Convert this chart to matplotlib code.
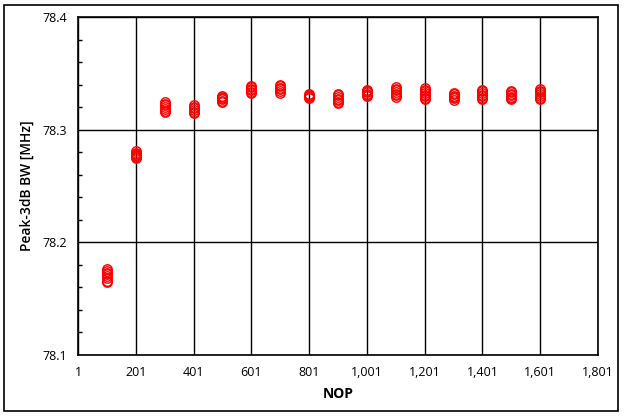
import matplotlib
matplotlib.use("Agg")
import matplotlib.pyplot as plt
from matplotlib.patches import Rectangle
from matplotlib.ticker import FuncFormatter, MultipleLocator

# repeated measurements per NOP setting
nop = [101, 201, 301, 401, 501, 601, 701, 801, 901, 1001, 1101, 1201, 1301, 1401, 1501, 1601]
bw_runs = [
    [78.1763, 78.1745, 78.1730, 78.1715, 78.1700, 78.1680, 78.1660, 78.1645],
    [78.2810, 78.2795, 78.2785, 78.2775, 78.2765, 78.2755, 78.2745],
    [78.3245, 78.3230, 78.3215, 78.3200, 78.3185, 78.3170, 78.3158],
    [78.3220, 78.3205, 78.3190, 78.3175, 78.3160, 78.3150],
    [78.3300, 78.3290, 78.3280, 78.3270, 78.3258, 78.3247],
    [78.3388, 78.3375, 78.3362, 78.3350, 78.3338, 78.3326],
    [78.3397, 78.3385, 78.3372, 78.3360, 78.3345, 78.3326],
    [78.3315, 78.3305, 78.3295, 78.3288, 78.3280],
    [78.3317, 78.3305, 78.3290, 78.3275, 78.3260, 78.3248, 78.3237],
    [78.3350, 78.3340, 78.3330, 78.3320, 78.3310, 78.3300],
    [78.3380, 78.3365, 78.3350, 78.3335, 78.3320, 78.3305, 78.3290],
    [78.3370, 78.3355, 78.3340, 78.3325, 78.3310, 78.3295, 78.3280, 78.3270],
    [78.3325, 78.3315, 78.3303, 78.3290, 78.3277, 78.3263],
    [78.3352, 78.3340, 78.3325, 78.3310, 78.3298, 78.3285, 78.3272],
    [78.3343, 78.3330, 78.3318, 78.3305, 78.3292, 78.3280, 78.3272],
    [78.3360, 78.3345, 78.3330, 78.3315, 78.3300, 78.3285, 78.3272],
]
x_ticks = [1, 201, 401, 601, 801, 1001, 1201, 1401, 1601, 1801]
y_ticks = [78.1, 78.2, 78.3, 78.4]

plt.rcParams['font.family'] = ['Open Sans', 'DejaVu Sans']

fig = plt.figure(figsize=(6.25, 4.19), dpi=100)
ax = fig.add_axes([78 / 625, 1 - 355 / 419, 520 / 625, 338 / 419])

for x, runs in zip(nop, bw_runs):
    ax.plot([x] * len(runs), runs, linestyle="none", marker="o", markersize=6.8,
            markerfacecolor="none", markeredgecolor="#ff0000", markeredgewidth=1.0,
            zorder=3)

ax.set_xlim(1, 1801)
ax.set_ylim(78.1, 78.4)
ax.set_xticks(x_ticks)
ax.set_yticks(y_ticks)
ax.xaxis.set_major_formatter(FuncFormatter(lambda v, p: f"{int(round(v)):,}"))
ax.yaxis.set_major_formatter(FuncFormatter(lambda v, p: f"{v:.1f}"))
ax.yaxis.set_minor_locator(MultipleLocator(0.02))
ax.tick_params(axis="both", which="major", length=0, labelsize=9, pad=8, colors="#000000")
ax.tick_params(axis="y", which="minor", direction="in", length=3, width=1)
ax.grid(True, which="major", color="black", linewidth=1)
for s in ax.spines.values():
    s.set_linewidth(1.2)

ax.set_xlabel("NOP", fontsize=10, fontweight="bold", labelpad=6)
ax.set_ylabel("Peak-3dB BW [MHz]", fontsize=10, fontweight="semibold", labelpad=6)

# outer chart border
fig.patches.append(Rectangle((4 / 625, 8 / 419), 614 / 625, 406 / 419,
                             transform=fig.transFigure, fill=False,
                             edgecolor="black", linewidth=1.2))

fig.savefig("out.png", dpi=100)
